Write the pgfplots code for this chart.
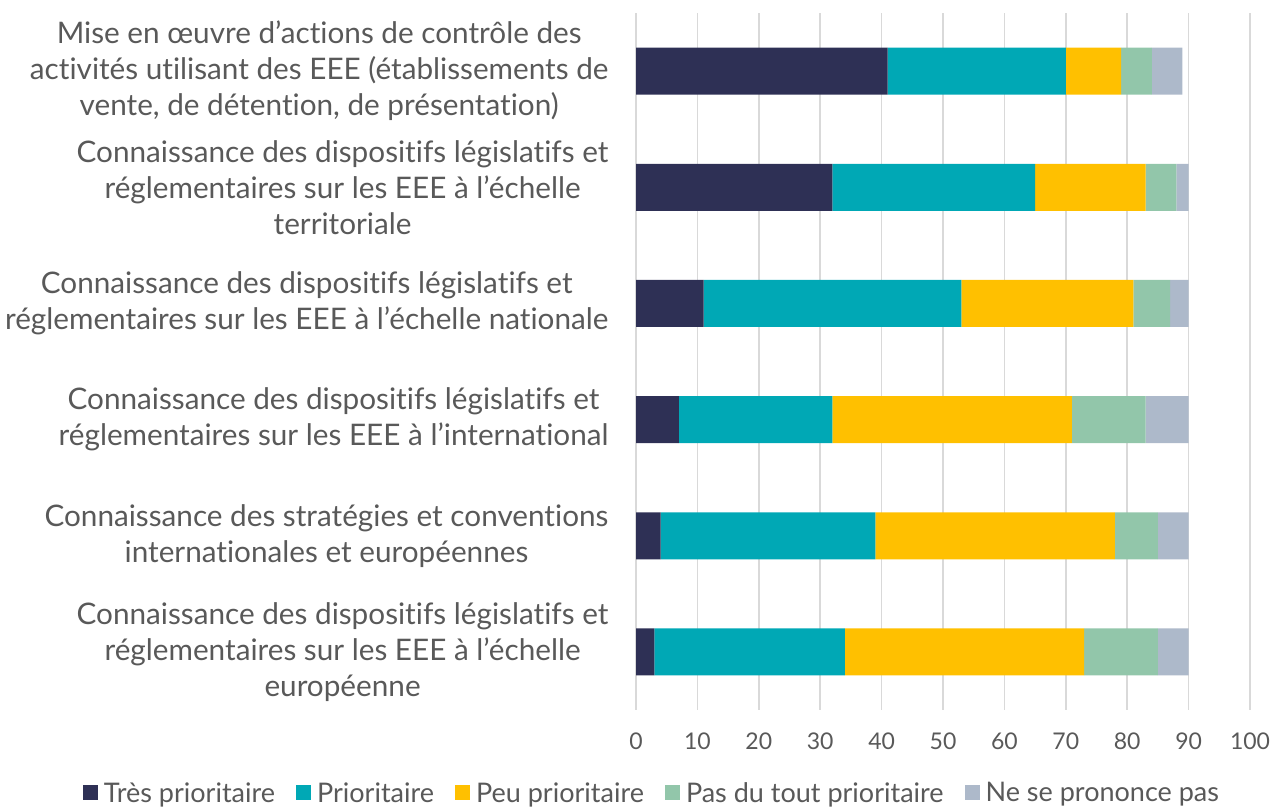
\documentclass[border=0pt]{standalone}
\usepackage{pgfplots}
\pgfplotsset{compat=1.18}
\usepackage{fontspec}
\setmainfont{Lato}[Ligatures=NoCommon]
\definecolor{c1}{HTML}{2E3055}
\definecolor{c2}{HTML}{00A8B5}
\definecolor{c3}{HTML}{FFC000}
\definecolor{c4}{HTML}{92C6AA}
\definecolor{c5}{HTML}{ADB9CA}
\definecolor{txt}{HTML}{595959}
\definecolor{gridc}{HTML}{D9D9D9}
\begin{document}
\begin{tikzpicture}[x=1pt,y=1pt]
\path[use as bounding box] (0,0) rectangle (1276,806);
\begin{axis}[
  at={(636pt,96pt)}, anchor=south west,
  scale only axis, width=614pt, height=697pt,
  xbar stacked, bar width=47pt,
  xmin=0, xmax=100, ymin=-0.5, ymax=5.5,
  y dir=reverse,
  axis line style={draw=none},
  xtick={0,10,...,100}, ytick={0,1,2,3,4,5},
  tick style={draw=none},
  xmajorgrids, grid style={gridc, line width=1.5pt},
  xticklabel style={font=\fontsize{23}{27}\selectfont, text=txt},
  /pgf/number format/assume math mode=true,
  yticklabel style={font=\fontsize{29.7}{36}\selectfont, text=txt, align=center},
  yticklabels={
    {Mise en œuvre d’actions de contrôle des\\activités utilisant des EEE (établissements de\\vente, de détention, de présentation)},
    {Connaissance des dispositifs législatifs et\\réglementaires sur les EEE à l’échelle\\territoriale},
    {Connaissance des dispositifs législatifs et\\réglementaires sur les EEE à l’échelle nationale},
    {Connaissance des dispositifs législatifs et\\réglementaires sur les EEE à l’international},
    {Connaissance des stratégies et conventions\\internationales et européennes},
    {Connaissance des dispositifs législatifs et\\réglementaires sur les EEE à l’échelle\\européenne}
  },
  yticklabel shift=24pt,
  xticklabel shift=19pt,
  legend columns=-1,
  legend style={at={(0.026,-0.119)}, anchor=center, draw=none,
    font=\fontsize{27}{31}\selectfont, text=txt,
    /tikz/every even column/.append style={column sep=19pt},
    /tikz/every odd column/.append style={column sep=4pt}},
  legend image code/.code={\fill[#1] (0pt,-7.5pt) rectangle (15pt,7.5pt);},
  clip=false,
]
\addplot[fill=c1, draw=none] coordinates {(41,0) (32,1) (11,2) (7,3) (4,4) (3,5)};
\addplot[fill=c2, draw=none] coordinates {(29,0) (33,1) (42,2) (25,3) (35,4) (31,5)};
\addplot[fill=c3, draw=none] coordinates {(9,0) (18,1) (28,2) (39,3) (39,4) (39,5)};
\addplot[fill=c4, draw=none] coordinates {(5,0) (5,1) (6,2) (12,3) (7,4) (12,5)};
\addplot[fill=c5, draw=none] coordinates {(5,0) (2,1) (3,2) (7,3) (5,4) (5,5)};
\legend{Très prioritaire, Prioritaire, Peu prioritaire, Pas du tout prioritaire, Ne se prononce pas}
\end{axis}
\end{tikzpicture}
\end{document}
